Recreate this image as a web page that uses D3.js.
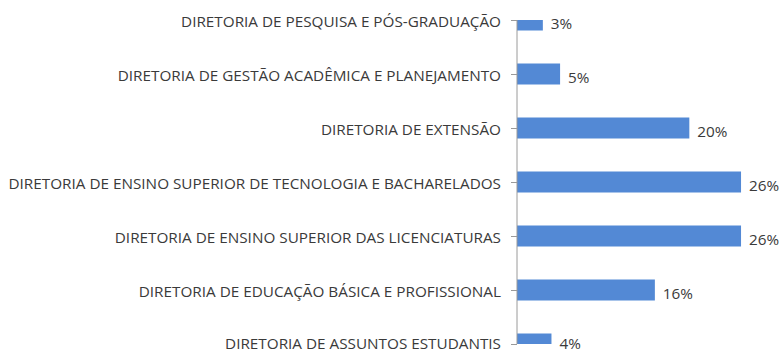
<!DOCTYPE html>
<html>
<head>
<meta charset="utf-8">
<script src="https://cdn.jsdelivr.net/npm/d3@7"></script>
<style>
  html, body { margin: 0; padding: 0; background: #fff; }
  svg { display: block; }
  text { font-family: "Open Sans", "Liberation Sans", sans-serif; fill: #3a3a3a; }
</style>
</head>
<body>
<svg id="chart" width="781" height="352"></svg>
<script>
// Share of each directorate (percent)
const categories = [
  "DIRETORIA DE PESQUISA E PÓS-GRADUAÇÃO",
  "DIRETORIA DE GESTÃO ACADÊMICA E PLANEJAMENTO",
  "DIRETORIA DE EXTENSÃO",
  "DIRETORIA DE ENSINO SUPERIOR DE TECNOLOGIA E BACHARELADOS",
  "DIRETORIA DE ENSINO SUPERIOR DAS LICENCIATURAS",
  "DIRETORIA DE EDUCAÇÃO BÁSICA E PROFISSIONAL",
  "DIRETORIA DE ASSUNTOS ESTUDANTIS"
];
const values = [3, 5, 20, 26, 26, 16, 4];
const valueLabels = ["3%", "5%", "20%", "26%", "26%", "16%", "4%"];

const svg = d3.select("#chart");
const W = 781, H = 352;
const plot = { left: 517, right: 775.5, top: 20, bottom: 344 };

const x = d3.scaleLinear().domain([0, 30]).range([plot.left, plot.right]);
const y = d3.scalePoint().domain(categories).range([plot.top, plot.bottom]);
const barH = 21;
const barColor = "#5389d5";

// Plot area clip
svg.append("defs").append("clipPath").attr("id", "plotClip")
  .append("rect")
  .attr("x", plot.left).attr("y", plot.top)
  .attr("width", plot.right - plot.left).attr("height", plot.bottom - plot.top);

// Bars
svg.append("g").attr("clip-path", "url(#plotClip)")
  .selectAll("rect").data(values).join("rect")
  .attr("x", x(0))
  .attr("y", (d, i) => y(categories[i]) - barH / 2)
  .attr("width", d => x(d) - x(0))
  .attr("height", barH)
  .attr("fill", barColor);

// Category axis
const axis = svg.append("g")
  .attr("transform", `translate(${plot.left},0)`)
  .call(d3.axisLeft(y).tickSize(6).tickPadding(10));
axis.select(".domain").remove();
axis.selectAll(".tick line").attr("stroke", "#9a9a9a");
axis.selectAll(".tick text").attr("fill", "#3a3a3a").style("font-size", "13px");

svg.append("line")
  .attr("x1", plot.left).attr("x2", plot.left)
  .attr("y1", plot.top).attr("y2", plot.bottom)
  .attr("stroke", "#9a9a9a");

// Fit label font so the longest label spans its column
let maxW = 0;
axis.selectAll(".tick text").each(function () { maxW = Math.max(maxW, this.getComputedTextLength()); });
const fs = 13 * 493 / maxW;
axis.selectAll(".tick text").style("font-size", fs + "px")
  .attr("dy", null).attr("dominant-baseline", "central");

// Keep text inside the bottom edge
const maxTextY = H - fs * 0.62;

// Value labels
svg.append("g").selectAll("text").data(values).join("text")
  .attr("x", d => x(d) + 8)
  .attr("y", (d, i) => Math.min(y(categories[i]) + 2.5, maxTextY))
  .attr("dominant-baseline", "central")
  .style("font-size", fs + "px")
  .text((d, i) => valueLabels[i]);

axis.selectAll(".tick text").attr("y", function (d) {
  return Math.min(0, maxTextY - y(d));
});
</script>
</body>
</html>
